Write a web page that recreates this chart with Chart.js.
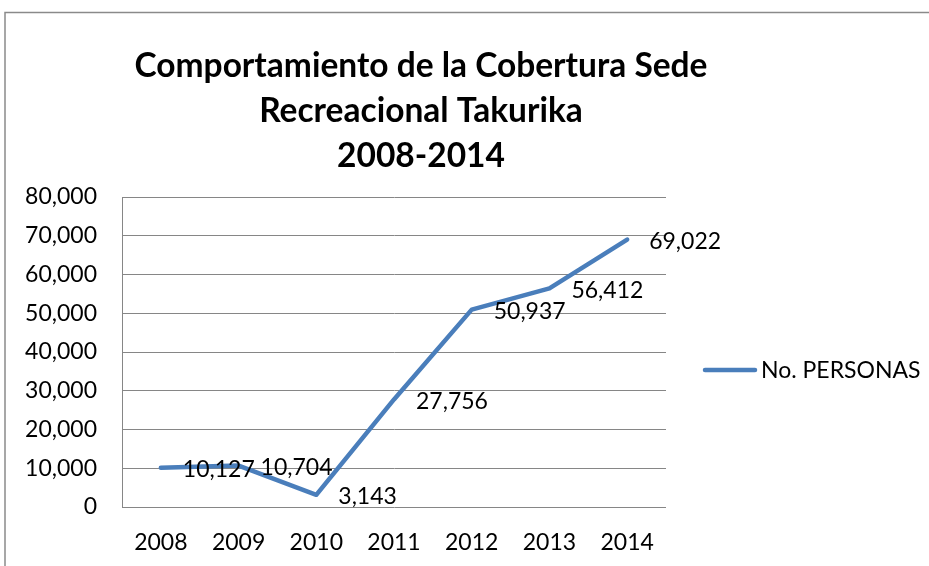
<!DOCTYPE html>
<html>
<head>
<meta charset="utf-8">
<script src="https://cdn.jsdelivr.net/npm/chart.js@4/dist/chart.umd.min.js"></script>
<style>
html,body{margin:0;padding:0;background:#fff;}
#wrap{width:929px;height:566px;position:relative;}
</style>
</head>
<body>
<div id="wrap"><canvas id="c" width="929" height="566"></canvas></div>
<script>
const titleLines = ["Comportamiento de la Cobertura Sede", "Recreacional Takurika", "2008-2014"];
const categories = ["2008", "2009", "2010", "2011", "2012", "2013", "2014"];
const seriesName = "No. PERSONAS";
const personas = [10127, 10704, 3143, 27756, 50937, 56412, 69022];
const yTicks = [0, 10000, 20000, 30000, 40000, 50000, 60000, 70000, 80000];

const FONT = "Lato, 'Open Sans', sans-serif";
const LINE_COLOR = "#4a7ebb";

const fmt = v => v.toLocaleString('en-US');

const decor = {
  id: 'decor',
  beforeDraw(chart) {
    const ctx = chart.ctx;
    ctx.save();
    ctx.fillStyle = '#fff';
    ctx.fillRect(0, 0, chart.width, chart.height);
    ctx.strokeStyle = '#8a8a8a';
    ctx.lineWidth = 1.5;
    ctx.strokeRect(5, 12.5, 1200, 1200);
    ctx.restore();
  },
  afterDraw(chart) {
    const ctx = chart.ctx;
    ctx.save();
    // title
    ctx.fillStyle = '#000';
    ctx.font = "bold 33.5px " + FONT;
    ctx.textAlign = 'center';
    ctx.textBaseline = 'middle';
    const ty = [66, 111, 156];
    titleLines.forEach((t, i) => ctx.fillText(t, 421, ty[i]));
    // data labels
    const meta = chart.getDatasetMeta(0);
    ctx.font = "23px " + FONT;
    ctx.textAlign = 'left';
    ctx.textBaseline = 'middle';
    meta.data.forEach((pt, i) => {
      ctx.fillText(fmt(chart.data.datasets[0].data[i]), pt.x + 22, pt.y + 2);
    });
    // legend
    const ds = chart.data.datasets[0];
    const ly = 370;
    ctx.strokeStyle = ds.borderColor;
    ctx.lineWidth = ds.borderWidth;
    ctx.lineCap = 'round';
    ctx.beginPath();
    ctx.moveTo(705, ly);
    ctx.lineTo(755, ly);
    ctx.stroke();
    ctx.fillStyle = '#000';
    ctx.fillText(ds.label, 761, ly + 1);
    ctx.restore();
  }
};

new Chart(document.getElementById('c'), {
  type: 'line',
  data: {
    labels: categories,
    datasets: [{
      label: seriesName,
      data: personas,
      borderColor: LINE_COLOR,
      backgroundColor: LINE_COLOR,
      borderWidth: 4.5,
      borderCapStyle: 'round',
      borderJoinStyle: 'round',
      pointRadius: 0,
      tension: 0
    }]
  },
  options: {
    responsive: false,
    animation: false,
    layout: { padding: { top: 197, right: 263, left: 0, bottom: 0 } },
    plugins: {
      legend: { display: false },
      title: { display: false },
      tooltip: { enabled: false }
    },
    scales: {
      x: {
        offset: true,
        grid: { display: false, drawTicks: false },
        border: { display: false },
        ticks: { color: '#000', font: { family: FONT, size: 23 }, padding: 22, maxRotation: 0 },
        afterFit(s) { s.height = 59; }
      },
      y: {
        min: 0, max: 80000,
        afterBuildTicks(s) { s.ticks = yTicks.map(v => ({ value: v })); },
        grid: { color: '#868686', lineWidth: 1, drawTicks: false },
        border: { display: true, color: '#868686', width: 1 },
        ticks: { color: '#000', font: { family: FONT, size: 23 }, padding: 25, callback: v => fmt(v) },
        afterFit(s) { s.width = 122; }
      }
    }
  },
  plugins: [decor]
});
</script>
</body>
</html>
